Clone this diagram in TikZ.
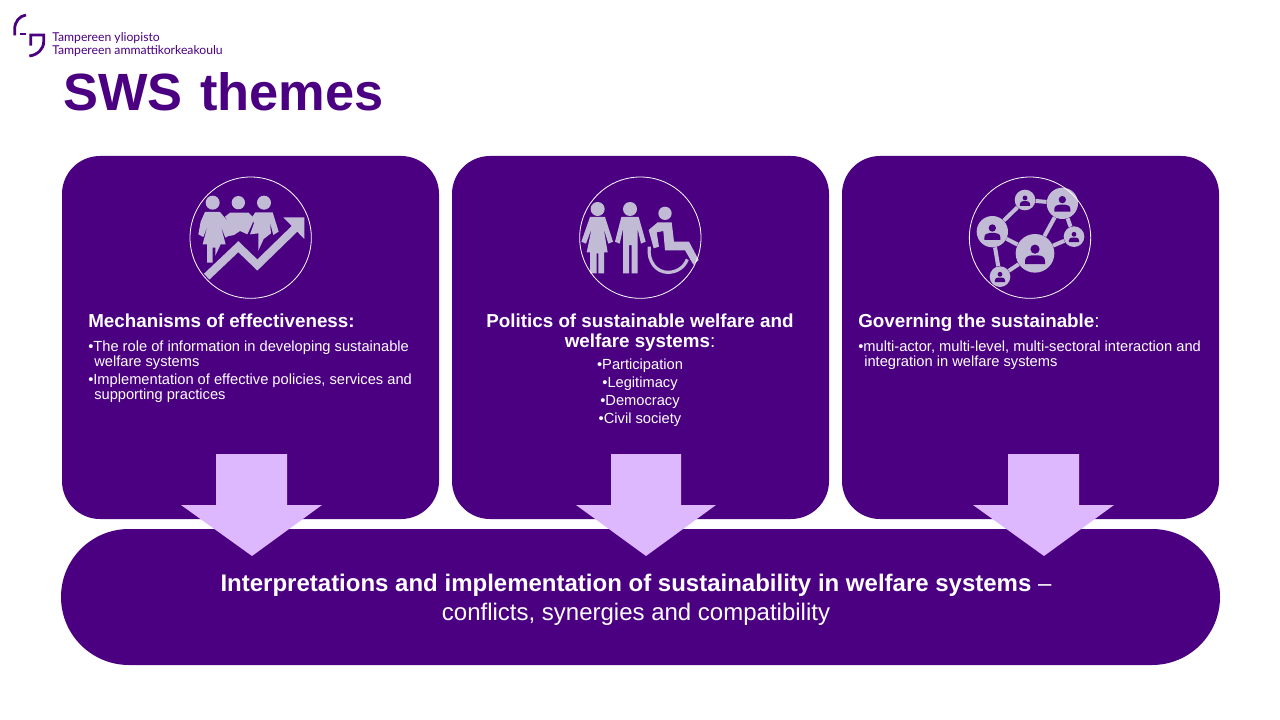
\documentclass[tikz,border=0pt]{standalone}
\usepackage{fontspec}
\setmainfont{Liberation Sans}
\newfontfamily\logofont{Lato}
\definecolor{indigo}{HTML}{4B0082}
\definecolor{lilac}{HTML}{DDB8FF}
\definecolor{icongrey}{HTML}{C2BBD6}
\tikzset{
  card/.style={fill=indigo,draw=none,rounded corners=28.5pt},
  blockarrow/.style={fill=lilac,draw=none},
  ring/.style={draw=white,line width=0.6pt,fill=none},
  pict/.style={fill=icongrey,draw=none},
  head/.style={circle,fill=icongrey,draw=none,inner sep=0pt},
  netlink/.style={draw=icongrey,line width=3pt},
  netnode/.style={circle,fill=icongrey,draw=none,inner sep=0pt},
  heading/.style={text=white,font=\fontsize{14.1}{15}\selectfont\bfseries,inner sep=0pt},
  bodytext/.style={text=white,font=\fontsize{11}{11.25}\selectfont,inner sep=0pt},
  listtext/.style={text=white,font=\fontsize{11}{13.4}\selectfont,inner sep=0pt},
  zoomed/.style={x=0.25pt,y=-0.25pt}
}
\newcommand{\netperson}[3]{% centre x, y, scale
  \begin{scope}[shift={(#1,#2)},scale=#3]
    \fill[indigo] (0,-14) circle (11);
    \fill[indigo] (-24,22) -- (-24,14) .. controls (-24,4) and (-14,1) .. (-8,1) -- (8,1) .. controls (14,1) and (24,4) .. (24,14) -- (24,22) -- cycle;
  \end{scope}}
\begin{document}
\begin{tikzpicture}[x=0.75pt,y=-0.75pt]
\useasboundingbox (0,0) rectangle (1280,720);
\fill[white] (0,0) rectangle (1280,720);

% logo
\begin{scope}[zoomed]
  \draw[indigo,line width=2.1pt] (44,106) -- (44,88) .. controls (44,65) and (58,48) .. (78,45);
  \draw[indigo,line width=2.1pt] (59,102) -- (78,102);
  \draw[indigo,line width=2.1pt] (92,137) -- (92,105) -- (131,105) -- (131,125) .. controls (131,148) and (112,165) .. (88,168);
\end{scope}
\node[anchor=base west,inner sep=0pt,text=indigo,font=\logofont\fontsize{9.15}{9.75}\selectfont,align=left] (logotext) at (52,55) {Tampereen yliopisto\\Tampereen ammattikorkeakoulu};

\node[anchor=base west,inner sep=0pt,text=indigo,font=\fontsize{39.3}{44}\selectfont\bfseries] (title) at (63,111) {SWS\hspace{2.25pt} themes};

% cards
\path[card] (62,156) rectangle (439,519);
\path[card] (452,156) rectangle (829,519);
\path[card] (842,156) rectangle (1219,519);

% pill
\fill[indigo,rounded corners=51pt] (61,529) rectangle (1220,665);

% icon 1
\begin{scope}[shift={(170,165)},zoomed]
  \node[head,minimum size=10.5pt] (h1a) at (128,113) {};
  \node[head,minimum size=10pt] (h1b) at (205,113) {};
  \node[head,minimum size=10.5pt] (h1c) at (282,113) {};
  \path[pict] (105,141) -- (150,141) -- (166,160) -- (176,172) -- (181,210) -- (166,218) -- (152,182) -- (167,238) -- (152,238) -- (136,272) -- (136,248) -- (128,248) -- (128,293) -- (111,293) -- (111,238) -- (98,238) -- (113,180) -- (100,216) -- (85,208) -- (92,170) -- cycle;
  \path[pict] (180,143) -- (236,143) -- (252,160) -- (247,176) -- (232,208) -- (210,198) -- (192,210) -- (178,213) -- (172,168) -- (165,155) -- cycle;
  \path[pict] (256,142) -- (308,142) -- (326,200) -- (310,210) -- (300,172) -- (303,205) -- (281,222) -- (265,257) -- (265,205) -- (240,208) -- (252,175) -- (245,158) -- cycle;
  \draw[icongrey,line width=6pt] (110,335) -- (205,245) -- (262,300) -- (375,190);
  \path[pict] (340,157) -- (403,157) -- (403,222) -- cycle;
  \node[ring,circle,inner sep=0pt,minimum size=91pt] (ring1) at (242,218) {};
\end{scope}

% icon 2
\begin{scope}[shift={(560,165)},zoomed]
  \node[head,minimum size=10.5pt] (h2a) at (113,132) {};
  \node[head,minimum size=10.5pt] (h2b) at (210,132) {};
  \node[head,minimum size=10pt] (h2c) at (315,145) {};
  \path[pict] (90,156) -- (135,156) -- (159,230) -- (145,236) -- (131,190) -- (143,262) -- (132,262) -- (132,325) -- (115,325) -- (115,265) -- (110,265) -- (110,325) -- (90,325) -- (90,262) -- (80,262) -- (95,190) -- (78,236) -- (64,230) -- cycle;
  \path[pict] (184,156) -- (236,156) -- (257,230) -- (243,236) -- (233,192) -- (233,325) -- (215,325) -- (215,240) -- (207,240) -- (207,325) -- (189,325) -- (189,192) -- (179,236) -- (165,230) -- cycle;
  \path[pict] (293,172) -- (335,172) -- (342,230) -- (387,230) -- (416,285) -- (400,299) -- (375,256) -- (315,256) -- (310,198) -- (290,202) -- (297,245) -- (281,250) -- (266,195) -- cycle;
  \draw[icongrey,line width=2.4pt] (268,245) .. controls (262,290) and (290,322) .. (323,322) .. controls (350,322) and (372,308) .. (382,283);
  \node[ring,circle,inner sep=0pt,minimum size=91pt] (ring2) at (241,218) {};
\end{scope}

% icon 3
\begin{scope}[shift={(950,165)},zoomed]
  \node[netnode,minimum size=29pt] (nc) at (255,265) {};
  \node[netnode,minimum size=23.5pt] (nl) at (127,200) {};
  \node[netnode,minimum size=23.5pt] (nt) at (337,115) {};
  \node[netnode,minimum size=15.5pt] (ntl) at (225,105) {};
  \node[netnode,minimum size=15.5pt] (nr) at (372,215) {};
  \node[netnode,minimum size=15.5pt] (nb) at (150,335) {};
  \path[netlink] (nl) -- (ntl);
  \path[netlink] (ntl) -- (nt);
  \path[netlink] (nt) -- (nr);
  \path[netlink] (nt) -- (nc);
  \path[netlink] (nl) -- (nc);
  \path[netlink] (nl) -- (nb);
  \path[netlink] (nb) -- (nc);
  \path[netlink] (nr) -- (nc);
  \netperson{255}{270}{1.25}
  \netperson{127}{203}{1}
  \netperson{337}{118}{1}
  \netperson{225}{108}{0.65}
  \netperson{372}{217}{0.65}
  \netperson{150}{337}{0.65}
  \node[ring,circle,inner sep=0pt,minimum size=91pt] (ring3) at (240,218) {};
\end{scope}

% card texts
\node[heading,anchor=base west] (h1) at (88,327) {Mechanisms of effectiveness:};
\node[bodytext,anchor=base west,align=left] (b1) at (88,366) {•The role of information in developing sustainable\\\hspace*{4.5pt}welfare systems};
\node[bodytext,anchor=base west,align=left] (b1b) at (88,399) {•Implementation of effective policies, services and\\\hspace*{4.5pt}supporting practices};

\node[heading,anchor=base,align=center] (h2) at (640,347) {Politics of sustainable welfare and\\welfare systems\textmd{:}};
\node[listtext,anchor=base,align=center] (b2) at (640,423) {•Participation\\•Legitimacy\\•Democracy\\•Civil society};

\node[heading,anchor=base west] (h3) at (858,327) {Governing the sustainable\textmd{:}};
\node[bodytext,anchor=base west,align=left] (b3) at (858,366) {•multi-actor, multi-level, multi-sectoral interaction and\\\hspace*{4.5pt}integration in welfare systems};

% block arrows
\path[blockarrow] (216,454) -- (287,454) -- (287,505) -- (322,505) -- (252,556) -- (181,505) -- (216,505) -- cycle;
\path[blockarrow] (611,454) -- (681,454) -- (681,505) -- (716,505) -- (646,556) -- (576,505) -- (611,505) -- cycle;
\path[blockarrow] (1008,454) -- (1079,454) -- (1079,505) -- (1114,505) -- (1044,556) -- (973,505) -- (1008,505) -- cycle;

% pill text
\node[anchor=base,inner sep=0pt,text=white,font=\fontsize{18}{21.75}\selectfont,align=center] (pilltext) at (636,620) {\textbf{Interpretations and implementation of sustainability in welfare systems} –\\conflicts, synergies and compatibility};
\end{tikzpicture}
\end{document}
